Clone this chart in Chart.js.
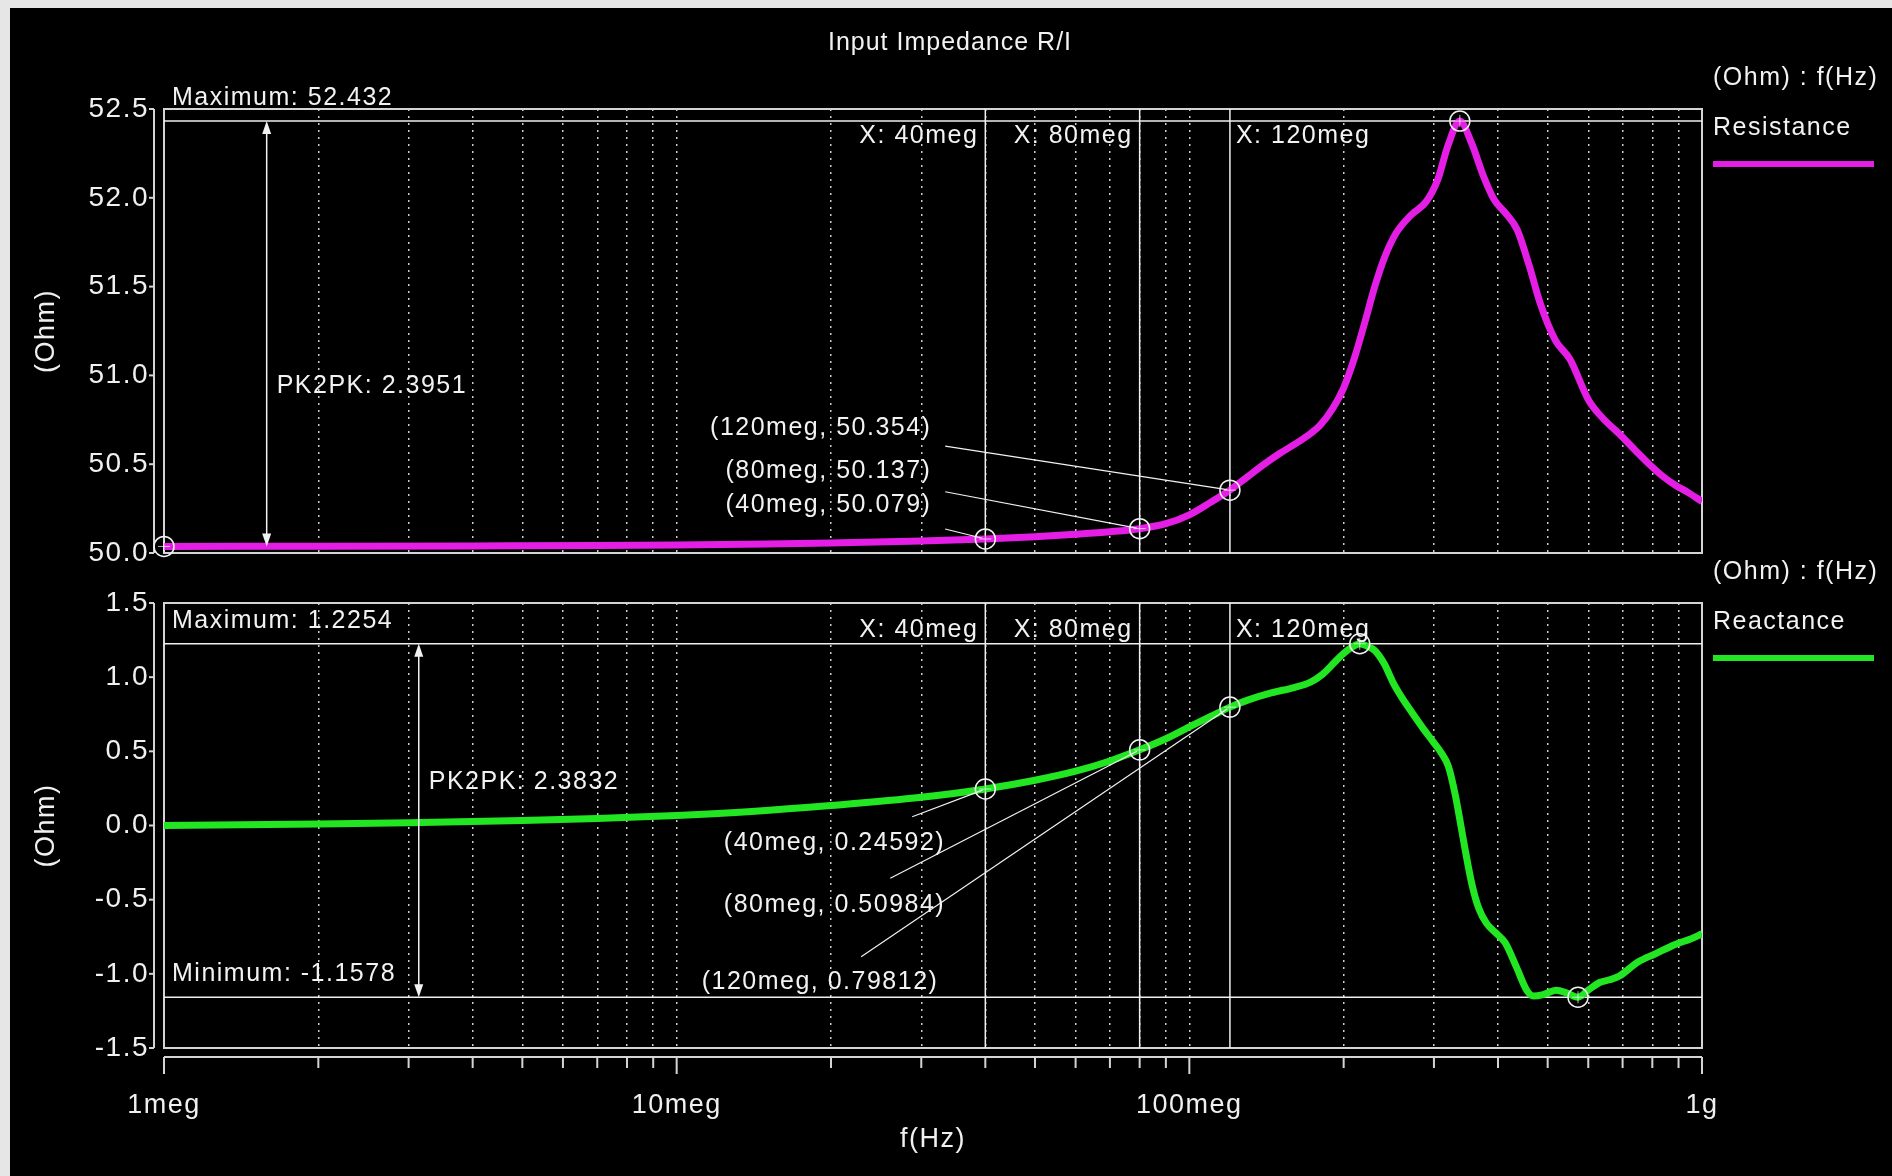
<!DOCTYPE html>
<html>
<head>
<meta charset="utf-8">
<title>Input Impedance R/I</title>
<script src="https://cdn.jsdelivr.net/npm/chart.js@4.4.1/dist/chart.umd.min.js"></script>
<style>
  html, body { margin: 0; padding: 0; background: #e6e6e6; }
  #wrap { position: relative; width: 1892px; height: 1176px; overflow: hidden; }
  #panel { position: absolute; left: 10px; top: 8px; right: 0; bottom: 0; background: #000; }
  canvas { position: absolute; left: 0; top: 0; }
</style>
</head>
<body>
<div id="wrap">
  <div id="panel"></div>
  <canvas id="resChart" width="1892" height="600"></canvas>
  <canvas id="reacChart" width="1892" height="1176"></canvas>
</div>
<script>
// frequencies are in MHz ("meg"), values in Ohm
const resFreq = [1, 2, 4, 7, 10, 15, 20, 30, 40, 50, 60, 70, 80, 90, 100, 110, 120, 130, 140, 150,
  160, 170, 180, 190, 200, 210, 220, 230, 240, 253, 270, 290, 305, 320, 337, 355, 375, 393, 415, 436,
  460, 483, 517, 553, 601, 640, 690, 740, 789, 840, 889, 940, 1000];
const resistance = [50.037, 50.038, 50.040, 50.042, 50.045, 50.051, 50.057, 50.067, 50.079, 50.092,
  50.106, 50.120, 50.137, 50.165, 50.215, 50.285, 50.354, 50.43, 50.50, 50.56,
  50.61, 50.66, 50.72, 50.81, 50.93, 51.10, 51.30, 51.50, 51.66, 51.80, 51.90, 51.98, 52.10, 52.30,
  52.432, 52.31, 52.12, 51.99, 51.91, 51.82, 51.62, 51.41, 51.20, 51.09, 50.86, 50.76, 50.67, 50.58,
  50.50, 50.43, 50.38, 50.34, 50.29];

const reacFreq = [1, 2, 3, 5, 7, 10, 14, 20, 30, 40, 50, 60, 70, 80, 90, 100, 110, 120, 130, 145,
  160, 172, 182, 192, 200, 207, 215, 222, 230, 240, 250, 260, 272, 285, 298, 310, 320, 330, 337, 345,
  356, 367, 380, 395, 413, 434, 455, 469, 490, 520, 545, 573, 600, 630, 660, 690, 750, 811, 889, 950, 1000];
const reactance = [0.000, 0.010, 0.018, 0.033, 0.047, 0.068, 0.095, 0.135, 0.190, 0.246, 0.305, 0.366,
  0.435, 0.510, 0.585, 0.665, 0.735, 0.798, 0.845, 0.895, 0.930, 0.965, 1.02, 1.10, 1.16, 1.20, 1.2254,
  1.21, 1.18, 1.09, 0.96, 0.86, 0.76, 0.66, 0.57, 0.49, 0.40, 0.21, 0.04, -0.16, -0.40, -0.56, -0.66,
  -0.72, -0.79, -0.95, -1.11, -1.15, -1.14, -1.11, -1.13, -1.1578, -1.11, -1.06, -1.04, -1.015, -0.92,
  -0.865, -0.80, -0.765, -0.73];

// cursors and measured readouts
const cursorFreqs = [40, 80, 120];
const cursorAlign = ['right', 'right', 'left'];
const resCursorValues = [50.079, 50.137, 50.354];
const reacCursorValues = [0.24592, 0.50984, 0.79812];

const resMarkerFreq = [1, 40, 80, 120, 337];
const resMarkerValue = [50.037, 50.079, 50.137, 50.354, 52.432];
const reacMarkerFreq = [40, 80, 120, 215, 573];
const reacMarkerValue = [0.24592, 0.50984, 0.79812, 1.2254, -1.1578];

const resMax = 52.432, resMin = 50.037, resPk2pk = 2.3951;
const reacMax = 1.2254, reacMin = -1.1578, reacPk2pk = 2.3832;

// axes
const xMajor = [1e6, 1e7, 1e8, 1e9];
const xTickLabels = ['1meg', '10meg', '100meg', '1g'];
const xTicks = [];
[1e6, 1e7, 1e8].forEach(d => { for (let k = 1; k < 10; k++) xTicks.push(k * d); });
xTicks.push(1e9);

const FONT = '"Liberation Sans", Arial, sans-serif';
Chart.defaults.font.family = FONT;
Chart.defaults.color = '#f0f0f0';

const hz = f => f * 1e6;

function seg(ctx, x1, y1, x2, y2) {
  ctx.beginPath();
  ctx.moveTo(x1, y1);
  ctx.lineTo(x2, y2);
  ctx.stroke();
}

function arrowHead(ctx, x, tip, dir) {
  ctx.beginPath();
  ctx.moveTo(x, tip);
  ctx.lineTo(x - 4.5, tip + dir * 13);
  ctx.lineTo(x + 4.5, tip + dir * 13);
  ctx.closePath();
  ctx.fill();
}

function makeOverlay(cfg) {
  return {
    id: 'overlay',
    beforeDraw(chart) {
      chart.ctx.letterSpacing = '1.5px';
    },
    beforeDatasetsDraw(chart) {
      const { ctx, chartArea: a, scales: { x, y } } = chart;
      ctx.save();
      ctx.strokeStyle = '#d4d4d4';
      ctx.lineWidth = 2;
      ctx.strokeRect(a.left, a.top, a.width, a.height);

      // y axis line with small ticks
      const ax = a.left - 10;
      seg(ctx, ax, a.top, ax, a.bottom);
      y.ticks.forEach(t => {
        const py = y.getPixelForValue(t.value);
        seg(ctx, ax - 5, py, ax, py);
      });

      // x axis strip below the lower plot
      if (cfg.axisStrip) {
        const sy = a.bottom + 9;
        seg(ctx, a.left, sy, a.right, sy);
        x.ticks.forEach(t => {
          const px = x.getPixelForValue(t.value);
          seg(ctx, px, sy, px, sy + (xMajor.includes(t.value) ? 17 : 11));
        });
      }

      ctx.strokeStyle = '#f0f0f0';
      ctx.lineWidth = 1.5;
      cursorFreqs.forEach(f => {
        const px = x.getPixelForValue(hz(f));
        seg(ctx, px, a.top, px, a.bottom);
      });
      cfg.levels.forEach(l => {
        const py = y.getPixelForValue(l.value);
        seg(ctx, a.left, py, a.right, py);
      });
      ctx.restore();
    },
    afterDatasetsDraw(chart) {
      const { ctx, chartArea: a, scales: { x, y } } = chart;
      const px = f => x.getPixelForValue(hz(f));
      ctx.save();
      ctx.fillStyle = '#f2f2f2';
      ctx.strokeStyle = '#f2f2f2';
      ctx.textBaseline = 'middle';

      if (cfg.title) {
        ctx.letterSpacing = '1px';
        ctx.font = '25px ' + FONT;
        ctx.textAlign = 'center';
        ctx.fillText(cfg.title, chart.width / 2 + 4, 43);
        ctx.letterSpacing = '1.5px';
      }

      ctx.font = '25px ' + FONT;

      // cursor captions
      cursorFreqs.forEach((f, i) => {
        const left = cursorAlign[i] === 'left';
        ctx.textAlign = left ? 'left' : 'right';
        ctx.fillText('X: ' + f + 'meg', px(f) + (left ? 6 : -7), a.top + 27);
      });

      // maximum / minimum captions
      ctx.textAlign = 'left';
      cfg.levels.forEach(l => {
        ctx.fillText(l.name + ': ' + l.value, a.left + 8, y.getPixelForValue(l.value) - 23);
      });

      // peak to peak arrow
      const pk = cfg.pk;
      const ax = px(pk.freq);
      const y1 = y.getPixelForValue(pk.top), y2 = y.getPixelForValue(pk.bottom);
      ctx.lineWidth = 1.5;
      seg(ctx, ax, y1 + 4, ax, y2 - 4);
      arrowHead(ctx, ax, y1, 1);
      arrowHead(ctx, ax, y2, -1);
      ctx.fillText('PK2PK: ' + pk.value, ax + 10, y.getPixelForValue(pk.textValue));

      // cursor readouts with leader lines
      ctx.lineWidth = 1.2;
      ctx.textAlign = 'right';
      cursorFreqs.forEach((f, i) => {
        const v = cfg.values[i];
        const [tf, tv] = cfg.labelAt[i];
        const [lf, lv] = cfg.leadFrom[i];
        ctx.fillText('(' + f + 'meg, ' + v + ')', px(tf), y.getPixelForValue(tv));
        const sx = px(lf), sy = y.getPixelForValue(lv);
        const ex = px(f), ey = y.getPixelForValue(v);
        const len = Math.hypot(ex - sx, ey - sy);
        seg(ctx, sx, sy, ex - (ex - sx) / len * 3, ey - (ey - sy) / len * 3);
      });

      // legend at the right
      const ds = chart.data.datasets[2];
      const lx = a.right + 11;
      ctx.textAlign = 'left';
      ctx.fillText('(Ohm) : f(Hz)', lx, a.top - 31);
      ctx.fillText(ds.label, lx, a.top + 19);
      ctx.strokeStyle = ds.borderColor;
      ctx.lineWidth = 6;
      seg(ctx, lx, a.top + 55, a.right + 172, a.top + 55);
      ctx.restore();
    }
  };
}

function xScale(showLabels) {
  return {
    type: 'logarithmic',
    min: 1e6,
    max: 1e9,
    afterBuildTicks: s => { s.ticks = xTicks.map(v => ({ value: v })); },
    afterFit: s => { s.height = showLabels ? 128 : 0; },
    grid: { color: 'rgba(255,255,255,0.8)', lineWidth: 1.5, drawTicks: false },
    border: { display: false, dash: [2, 5] },
    ticks: {
      display: showLabels,
      autoSkip: false,
      maxRotation: 0,
      padding: 41,
      font: { size: 27 },
      callback: v => {
        const i = xMajor.indexOf(v);
        return i < 0 ? '' : xTickLabels[i];
      }
    },
    title: { display: showLabels, text: 'f(Hz)', font: { size: 27 }, padding: { top: 0, bottom: 20 } }
  };
}

function yScale(min, max) {
  return {
    type: 'linear',
    min: min,
    max: max,
    afterFit: s => { s.width = 164; },
    ticks: { stepSize: 0.5, padding: 15, font: { size: 28 }, callback: v => v.toFixed(1) },
    grid: { display: false, drawTicks: false },
    border: { display: false },
    title: { display: true, text: '(Ohm)', font: { size: 27 }, padding: { top: 30, bottom: 0 } }
  };
}

function datasets(freq, values, label, color, mf, mv) {
  const markers = mf.map((f, i) => ({ x: hz(f), y: mv[i] }));
  return [
    { data: markers, showLine: false, pointStyle: 'circle', pointRadius: 10, pointBorderWidth: 1.5,
      pointBorderColor: '#f2f2f2', pointBackgroundColor: 'rgba(0,0,0,0)', clip: false },
    { data: markers, showLine: false, pointStyle: 'cross', pointRadius: 6, pointBorderWidth: 1,
      pointBorderColor: 'rgba(255,255,255,0.7)', clip: false },
    { label: label, data: freq.map((f, i) => ({ x: hz(f), y: values[i] })), borderColor: color,
      borderWidth: 7, pointRadius: 0, cubicInterpolationMode: 'monotone', fill: false }
  ];
}

new Chart(document.getElementById('resChart'), {
  type: 'line',
  data: { datasets: datasets(resFreq, resistance, 'Resistance', '#e41ee4', resMarkerFreq, resMarkerValue) },
  options: {
    responsive: false,
    animation: false,
    events: [],
    layout: { padding: { left: 0, top: 109, right: 190, bottom: 47 } },
    scales: { x: xScale(false), y: yScale(50, 52.5) },
    plugins: { legend: { display: false }, tooltip: { enabled: false } }
  },
  plugins: [makeOverlay({
    title: 'Input Impedance R/I',
    axisStrip: false,
    levels: [{ name: 'Maximum', value: resMax }],
    pk: { freq: 1.586, top: resMax, bottom: resMin, value: resPk2pk, textValue: 50.94 },
    values: resCursorValues,
    labelAt: [[31.4, 50.27], [31.4, 50.463], [31.4, 50.704]],
    leadFrom: [[33.4, 50.135], [33.4, 50.345], [33.4, 50.602]]
  })]
});

new Chart(document.getElementById('reacChart'), {
  type: 'line',
  data: { datasets: datasets(reacFreq, reactance, 'Reactance', '#22e622', reacMarkerFreq, reacMarkerValue) },
  options: {
    responsive: false,
    animation: false,
    events: [],
    layout: { padding: { left: 0, top: 603, right: 190, bottom: 0 } },
    scales: { x: xScale(true), y: yScale(-1.5, 1.5) },
    plugins: { legend: { display: false }, tooltip: { enabled: false } }
  },
  plugins: [makeOverlay({
    axisStrip: true,
    levels: [{ name: 'Maximum', value: reacMax }, { name: 'Minimum', value: reacMin }],
    pk: { freq: 3.14, top: reacMax, bottom: reacMin, value: reacPk2pk, textValue: 0.293 },
    values: reacCursorValues,
    labelAt: [[33.4, -0.118], [33.4, -0.536], [32.4, -1.053]],
    leadFrom: [[28.8, 0.0593], [26.1, -0.356], [22.9, -0.885]]
  })]
});
</script>
</body>
</html>
